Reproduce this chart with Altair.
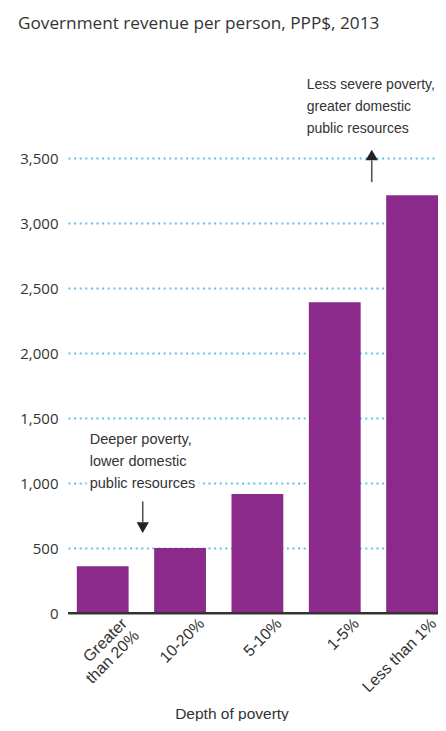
import altair as alt
import pandas as pd

# ---- data ----
categories = ["Greater than 20%", "10-20%", "5-10%", "1-5%", "Less than 1%"]
revenue = [360, 500, 915, 2390, 3215]
y_ticks = [0, 500, 1000, 1500, 2000, 2500, 3000, 3500]
baseline_value = [0]

title_text = "Government revenue per person, PPP$, 2013"
x_title = "Depth of poverty"

upper_note = ["Less severe poverty,", "greater domestic", "public resources"]
lower_note = ["Deeper poverty,", "lower domestic", "public resources"]

# annotation anchors (category, value)
upper_note_pos = ("1-5%", 4034)
lower_note_pos = ("Greater than 20%", 1303)
up_arrow = ("1-5%", 3315, 3482, 3524)      # category, line start, line end, head centre
down_arrow = ("Greater than 20%", 859, 698, 657)

# ---- styling ----
PURPLE = "#8b2a8b"
GRID = "#5cc3e6"
TEXT = "#333333"
FONT = "Open Sans"
NARROW = "Liberation Sans"

df = pd.DataFrame({"category": categories, "revenue": revenue})

x_scale = alt.Scale(domain=categories, paddingInner=0.33, paddingOuter=0.057, align=1)
y_scale = alt.Scale(domain=[0, 4270], nice=False)

label_expr = ("datum.value == 'Greater than 20%' ? ['Greater', 'than 20%'] : datum.label")

X = alt.X(
    "category:N",
    sort=categories,
    scale=x_scale,
    axis=alt.Axis(
        title=x_title,
        titleFont=NARROW,
        titleFontSize=15.5,
        titleFontWeight="normal",
        titleColor=TEXT,
        titleX=163.5,
        titleY=105,
        titleBaseline="alphabetic",
        labelAngle=-45,
        labelFont=NARROW,
        labelFontSize=16,
        labelColor=TEXT,
        labelExpr=label_expr,
        labelOffset=16,
        labelPadding=2,
        labelLineHeight=17,
        ticks=False,
        domainColor="#333333",
        domainWidth=1.8,
        grid=False,
    ),
)
Y = alt.Y(
    "revenue:Q",
    scale=y_scale,
    axis=alt.Axis(
        title=None,
        values=y_ticks,
        format=",d",
        labelFont=FONT,
        labelFontSize=15,
        labelColor=TEXT,
        labelPadding=10,
        domain=False,
        ticks=False,
        grid=True,
        gridColor=GRID,
        gridDash=[2, 3.6],
        gridWidth=1.8,
        gridOpacity={"condition": {"test": "datum.value === 0", "value": 0}, "value": 1},
    ),
)

bars = alt.Chart(df).mark_bar(color=PURPLE).encode(x=X, y=Y)

base_rule = alt.Chart(pd.DataFrame({"v": baseline_value})).mark_rule(
    color="#333333", strokeWidth=1.8).encode(y="v:Q")

up_df = pd.DataFrame({"category": [up_arrow[0]], "y1": [up_arrow[1]], "y2": [up_arrow[2]], "yh": [up_arrow[3]]})
down_df = pd.DataFrame({"category": [down_arrow[0]], "y1": [down_arrow[1]], "y2": [down_arrow[2]], "yh": [down_arrow[3]]})

up_line = alt.Chart(up_df).mark_rule(color="#555555", strokeWidth=1.6, xOffset=37).encode(
    x=alt.X("category:N", sort=categories), y="y1:Q", y2="y2:Q")
up_head = alt.Chart(up_df).mark_point(shape="triangle-up", filled=True, opacity=1, color="#222222",
                                       size=150, xOffset=37).encode(
    x=alt.X("category:N", sort=categories), y="yh:Q")
down_line = alt.Chart(down_df).mark_rule(color="#555555", strokeWidth=1.6, xOffset=40).encode(
    x=alt.X("category:N", sort=categories), y="y1:Q", y2="y2:Q")
down_head = alt.Chart(down_df).mark_point(shape="triangle-down", filled=True, opacity=1, color="#222222",
                                         size=150, xOffset=40).encode(
    x=alt.X("category:N", sort=categories), y="yh:Q")

up_txt_df = pd.DataFrame({"category": [upper_note_pos[0]], "v": [upper_note_pos[1]]})
low_txt_df = pd.DataFrame({"category": [lower_note_pos[0]], "v": [lower_note_pos[1]]})

upper_text = alt.Chart(up_txt_df).mark_text(
    text=upper_note, align="left", baseline="alphabetic", dx=-28, lineHeight=22,
    font=NARROW, fontSize=14, color=TEXT).encode(
    x=alt.X("category:N", sort=categories), y="v:Q")
lower_halo = alt.Chart(low_txt_df).mark_text(
    text=lower_note, align="left", baseline="alphabetic", dx=-13, lineHeight=22,
    font=NARROW, fontSize=14.5, color="white", stroke="white", strokeWidth=7).encode(
    x=alt.X("category:N", sort=categories), y="v:Q")
lower_text = alt.Chart(low_txt_df).mark_text(
    text=lower_note, align="left", baseline="alphabetic", dx=-13, lineHeight=22,
    font=NARROW, fontSize=14.5, color=TEXT).encode(
    x=alt.X("category:N", sort=categories), y="v:Q")

chart = alt.layer(
    bars, base_rule, lower_halo, lower_text, upper_text, up_line, up_head, down_line, down_head
).properties(
    width=370,
    height=555,
    autosize=alt.AutoSizeParams(type="none"),
    padding={"left": 60, "top": 50, "right": 0, "bottom": 108},
    title=alt.TitleParams(
        text=title_text, anchor="start", frame="group", dx=-50, offset=26,
        font=FONT, fontSize=17.2, fontWeight="normal", color=TEXT,
    ),
).configure_view(stroke=None)

chart.save("out.html", embed_options={"renderer": "svg", "actions": False})
